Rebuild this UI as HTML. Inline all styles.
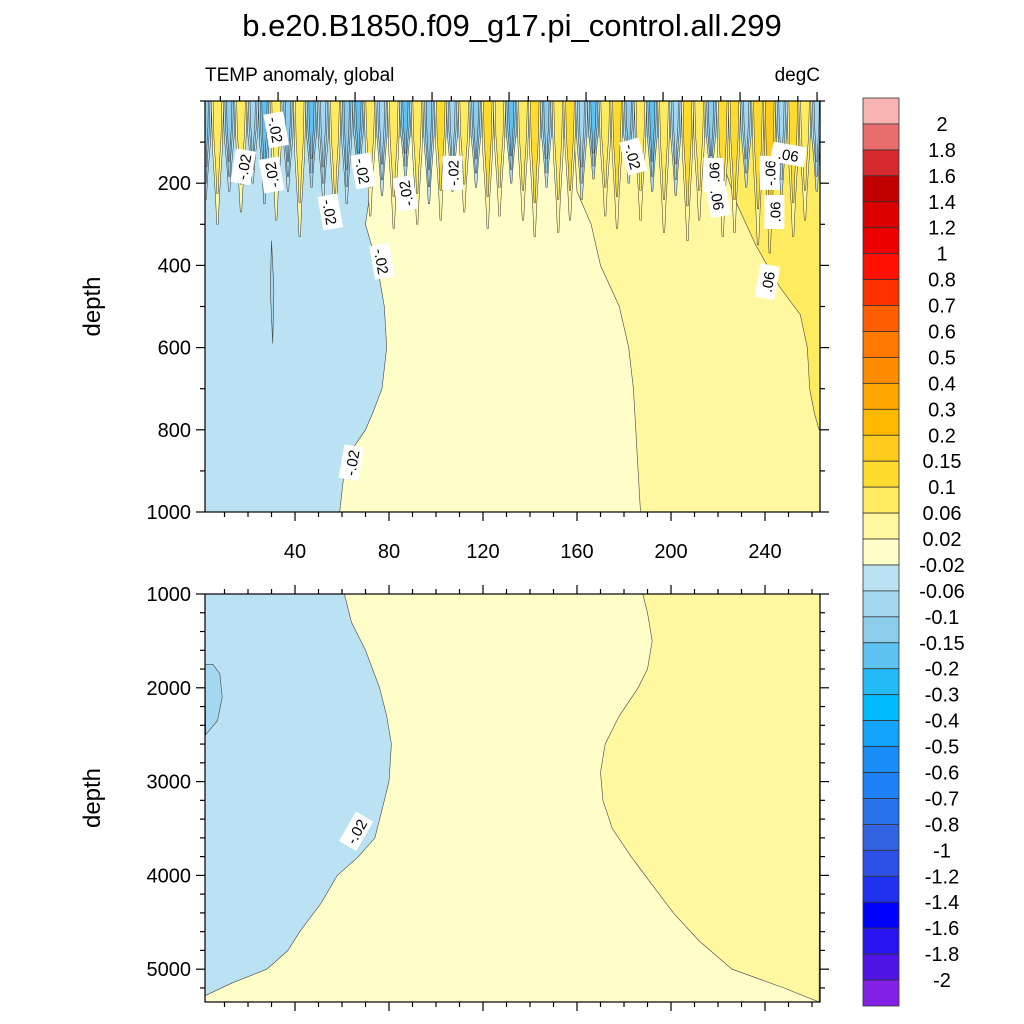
<!DOCTYPE html>
<html><head><meta charset="utf-8">
<style>
body{margin:0;background:#fff;}
svg{display:block;font-family:"Liberation Sans",sans-serif;}
</style></head>
<body>
<svg id="chart" width="1024" height="1024" viewBox="0 0 1024 1024" xmlns="http://www.w3.org/2000/svg">
<text x="512" y="36" font-size="31" text-anchor="middle">b.e20.B1850.f09_g17.pi_control.all.299</text>
<text x="205" y="81" font-size="19">TEMP anomaly, global</text>
<text x="820" y="81" font-size="19" text-anchor="end">degC</text>
<g id="upper"></g>
<g id="lower"></g>
<g id="cbar"></g>
</svg>
<script>
// ---- data ----
const levels = [2,1.8,1.6,1.4,1.2,1,0.8,0.7,0.6,0.5,0.4,0.3,0.2,0.15,0.1,0.06,0.02,-0.02,-0.06,-0.1,-0.15,-0.2,-0.3,-0.4,-0.5,-0.6,-0.7,-0.8,-1,-1.2,-1.4,-1.6,-1.8,-2];
const levelLabels = ["2","1.8","1.6","1.4","1.2","1","0.8","0.7","0.6","0.5","0.4","0.3","0.2","0.15","0.1","0.06","0.02","-0.02","-0.06","-0.1","-0.15","-0.2","-0.3","-0.4","-0.5","-0.6","-0.7","-0.8","-1","-1.2","-1.4","-1.6","-1.8","-2"];
const colors = ["#f9b3b3","#ea6d6d","#d72a2e","#c30000","#dc0000","#ee0000","#ff1000","#ff3300","#ff5f00","#ff7800","#ff8c00","#ffa500","#ffba00","#ffcc1e","#ffdb2d","#ffeb60","#fff8a0","#fffdc8","#bbe2f2","#a3d8f0","#8ccdec","#5cc2f2","#22baf7","#00bcff","#14a3fa","#198ef9","#1e80f5","#2873eb","#3264e1","#2d50e6","#1e32f0","#0000ff","#2814f0","#5014e6","#8220e6"];
const xTicks = [40,80,120,160,200,240];
const upYTicks = [200,400,600,800,1000];
const loYTicks = [1000,2000,3000,4000,5000];
// upper panel boundaries (depth m, x)
const upBlueDepth = [0,220,300,400,500,600,700,760,800,850,900,950,1000];
const upBlueX     = [75,72,70,75,78,79,77,73,70,64,61,60,59];
const upYelDepth  = [0,220,300,400,500,600,700,800,900,1000];
const upYelX      = [158,160,166,170,178,182,184,185,186,187];
const upYel2Depth = [0,150,250,350,450,520,600,700,760,800];
const upYel2X     = [222,222,228,236,246,255,258,259,261,263];
// surface band: value at surface and spike depth per 5-unit bin
const bandX = [2,7,12,17,22,27,32,37,42,47,52,57,62,67,72,77,82,87,92,97,102,107,112,117,122,127,132,137,142,147,152,157,162,167,172,177,182,187,192,197,202,207,212,217,222,227,232,237,242,247,252,257,262];
const bandVal = [-0.15,0.06,-0.15,0.06,-0.1,-0.2,0.06,-0.15,0.06,-0.2,-0.1,0.06,-0.15,-0.2,0.06,-0.1,0.06,-0.2,0.06,-0.15,0.1,-0.1,0.06,-0.15,0.1,0.06,-0.2,0.06,0.1,-0.15,0.06,0.1,-0.1,-0.2,0.06,0.1,-0.15,0.06,-0.2,0.06,-0.1,0.1,0.06,-0.15,0.1,0.1,-0.1,0.1,0.15,-0.1,0.1,0.06,-0.1];
const bandDepth = [240,300,220,270,200,250,290,220,330,210,240,300,250,190,280,230,310,190,300,250,290,220,270,210,310,280,200,290,330,210,320,290,240,190,280,310,200,290,220,320,230,340,290,200,330,320,210,350,370,230,330,290,220];
// lower panel boundaries (depth, x)
const loBlueDepth = [1000,1300,1600,2000,2300,2600,3000,3300,3600,3800,4000,4300,4600,4800,5000,5150,5280];
const loBlueX     = [61,64,70,76,79,81,80,77,74,67,58,51,42,37,28,13,2];
const loBlue2Depth= [1750,1850,2100,2350,2500];
const loBlue2X    = [5,8,9,7,2];
const loYelDepth  = [1000,1200,1500,1800,2000,2300,2600,2900,3200,3500,3800,4100,4400,4700,5000,5200,5350];
const loYelX      = [188,190,192,190,186,178,172,170,171,175,183,192,201,212,226,248,263];
const labels = [ // panel, x, depth, text, rotation
 ["u",18,160,"-.02",-80],["u",32,70,"-.02",80],["u",30,180,"-.02",-100],["u",55,270,"-.02",80],["u",69,170,"-.02",80],
 ["u",87,225,"-.02",-100],["u",77,390,"-.02",80],["u",107,175,"-.02",-90],["u",64,880,"-.02",-80],["u",184,135,"-.02",75],
 ["u",218,180,"-.06",-90],["u",242,175,"-.06",-90],["u",250,130,".06",10],["u",220,240,".06",80],["u",244,270,".06",-90],["u",241,440,".06",-80],
 ["l",66,3530,"-.02",-60]];
// ---- scales ----
const X0=205,X1=820,XMIN=1.7,XMAX=263.4;
const sx = v => Math.max(X0,Math.min(X1,X0+(v-XMIN)/(XMAX-XMIN)*(X1-X0)));
const UY0=101,UY1=512; const syU = d => UY0+d/1000*(UY1-UY0);
const LY0=594,LY1=1002; const syL = d => LY0+(d-1000)/(5350-1000)*(LY1-LY0);
const NS="http://www.w3.org/2000/svg";
function mk(tag,attrs,parent){const e=document.createElementNS(NS,tag);for(const k in attrs)e.setAttribute(k,attrs[k]);parent.appendChild(e);return e;}
function colorFor(v){ let i=0; while(i<levels.length && v<levels[i]) i++; return colors[i]; }
function poly(pts){return pts.map(p=>p[0].toFixed(1)+","+p[1].toFixed(1)).join(" ");}
const up=document.getElementById("upper"), lo=document.getElementById("lower"), cb=document.getElementById("cbar");

// ---- upper panel ----
let e=mk("rect",{x:X0,y:UY0,width:X1-X0,height:UY1-UY0,fill:"#fffdc8"},up);


let pts=[[X0,UY0]]; upBlueDepth.forEach((d,i)=>pts.push([sx(upBlueX[i]),syU(d)])); pts.push([X0,UY1]);
e=mk("polygon",{points:poly(pts),fill:"#bbe2f2",stroke:"#444","stroke-width":0.6},up);


pts=[]; upYelDepth.forEach((d,i)=>pts.push([sx(upYelX[i]),syU(d)])); pts.push([X1,UY1],[X1,UY0]);
e=mk("polygon",{points:poly(pts),fill:"#fff8a0",stroke:"#444","stroke-width":0.6},up);


pts=[]; upYel2Depth.forEach((d,i)=>pts.push([sx(upYel2X[i]),syU(d)])); pts.push([X1,syU(800)],[X1,UY0]);
e=mk("polygon",{points:poly(pts),fill:"#ffeb60",stroke:"#444","stroke-width":0.6},up);


e=mk("polygon",{points:poly([[sx(30),syU(340)],[sx(31),syU(460)],[sx(30.5),syU(590)],[sx(29.5),syU(460)]]),fill:"#a3d8f0",stroke:"#444","stroke-width":0.6},up);


// surface band
e=mk("rect",{x:X0,y:UY0,width:X1-X0,height:syU(90)-UY0,fill:"#a3d8f0"},up);


bandX.forEach((x,i)=>{
  const v=bandVal[i], d=bandDepth[i];
  const g=mk("g",{},up);
  
  
  const steps = v<0 ? [v*0.35, v*0.7, v] : [v*0.5, v];
  steps.forEach((s,k)=>{
    const dd=d*(1-0.5*k/steps.length);
    const w=2.6*(1-0.28*k);
    const p=[[sx(x-w),UY0],[sx(x+w),UY0],[sx(x+w*0.8),syU(dd*0.4)],[sx(x+w*0.35),syU(dd*0.75)],[sx(x+0.3),syU(dd)],[sx(x-0.3),syU(dd)],[sx(x-w*0.35),syU(dd*0.75)],[sx(x-w*0.8),syU(dd*0.4)]];
    const pe=mk("polygon",{points:poly(p),fill:colorFor(s),stroke:"#333","stroke-width":0.5},g);
    
    
  });
});
// ---- lower panel ----
e=mk("rect",{x:X0,y:LY0,width:X1-X0,height:LY1-LY0,fill:"#fffdc8"},lo);


pts=[[X0,LY0]]; loBlueDepth.forEach((d,i)=>pts.push([sx(loBlueX[i]),syL(d)])); pts.push([X0,syL(loBlueDepth[loBlueDepth.length-1])]);
e=mk("polygon",{points:poly(pts),fill:"#bbe2f2",stroke:"#444","stroke-width":0.6},lo);


pts=[[X0,syL(loBlue2Depth[0])]]; loBlue2Depth.forEach((d,i)=>pts.push([sx(loBlue2X[i]),syL(d)]));
e=mk("polygon",{points:poly(pts),fill:"#a3d8f0",stroke:"#444","stroke-width":0.6},lo);


pts=[]; loYelDepth.forEach((d,i)=>pts.push([sx(loYelX[i]),syL(d)])); pts.push([X1,LY0]);
e=mk("polygon",{points:poly(pts),fill:"#fff8a0",stroke:"#444","stroke-width":0.6},lo);


labels.forEach(l=>{
  const X=sx(l[1]), Y=l[0]=="u"?syU(l[2]):syL(l[2]);
  const g=mk("g",{transform:`translate(${X.toFixed(1)},${Y.toFixed(1)}) rotate(${l[4]})`},l[0]=="u"?up:lo);
  
  
  mk("rect",{x:-17,y:-10,width:34,height:20,fill:"#fff"},g);
  const t=mk("text",{x:0,y:6,"font-size":15,"text-anchor":"middle"},g); t.textContent=l[3];
});
// ---- axes ----
function axes(parent,Y0,Y1,sy,yt,ymin,ymax,minorStep,topOwn){
  const g=mk("g",{stroke:"#000","stroke-width":1.2,fill:"none"},parent);
  
  
  mk("rect",{x:X0,y:Y0,width:X1-X0,height:Y1-Y0},g);
  for(let v=10;v<=XMAX;v+=10){const maj=v%40==0;const x=sx(v);
    mk("line",{x1:x,x2:x,y1:Y1,y2:Y1+(maj?9:5)},g);
    if(!topOwn) mk("line",{x1:x,x2:x,y1:Y0,y2:Y0-(maj?9:5)},g);}
  if(topOwn){for(let k=0;k<33;k++){const x=220.3+k*19.25; if(x>X1)break; const maj=(k%4==3);
    mk("line",{x1:x,x2:x,y1:Y0,y2:Y0-(maj?9:5)},g);}}
  for(let v=Math.ceil(ymin/minorStep)*minorStep;v<=ymax;v+=minorStep){const y=sy(v);const maj=yt.includes(v);
    mk("line",{x1:X0,x2:X0-(maj?9:5),y1:y,y2:y},g); mk("line",{x1:X1,x2:X1+(maj?9:5),y1:y,y2:y},g);}
  yt.forEach(v=>{const t=mk("text",{x:X0-14,y:sy(v)+7,"font-size":20,"text-anchor":"end",fill:"#000",stroke:"none"},parent);t.textContent=v;
    
    });
  const t=mk("text",{transform:`translate(100,${(Y0+Y1)/2}) rotate(-90)`,"font-size":24,"text-anchor":"middle",fill:"#000"},parent);t.textContent="depth";
  
  
}
axes(up,UY0,UY1,syU,upYTicks,0,1000,100,true);
axes(lo,LY0,LY1,syL,loYTicks,1000,5350,200,false);
xTicks.forEach(v=>{const t=mk("text",{x:sx(v),y:558,"font-size":20,"text-anchor":"middle"},up);t.textContent=v;
  
  });
// ---- colorbar ----
const CX=863,CW=36,CY0=98,CY1=1006,bh=(CY1-CY0)/colors.length;
colors.forEach((c,i)=>{const r=mk("rect",{x:CX,y:CY0+i*bh,width:CW,height:bh,fill:c,stroke:"#333","stroke-width":0.8},cb);
  
  });
levelLabels.forEach((s,i)=>{const t=mk("text",{x:942,y:CY0+(i+1)*bh+7,"font-size":20,"text-anchor":"middle"},cb);t.textContent=s;
  
  });
</script>
</body></html>
